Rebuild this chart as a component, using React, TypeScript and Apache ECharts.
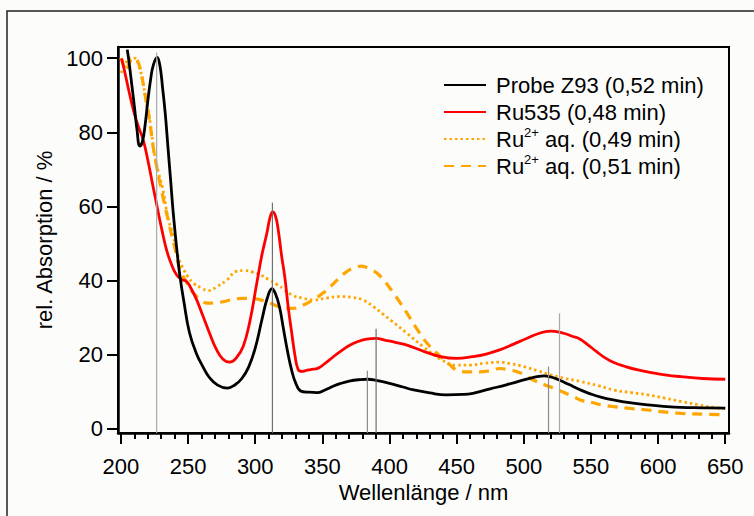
import React, { useEffect, useRef } from "react";
import * as echarts from "echarts";

const FONT = '"Liberation Sans", Arial, Helvetica, sans-serif';

const seriesNames = [
  "Probe Z93 (0,52 min)",
  "Ru535 (0,48 min)",
  "Ru2+ aq. (0,49 min)",
  "Ru2+ aq. (0,51 min)",
];

const probeZ93 = [
  [204.7, 102.3], [206, 99], [208, 93], [210, 87], [212, 80.5], [214, 76.3], [216, 77.5], [218, 82],
  [220, 88.5], [222, 94], [224, 98], [227, 100.2], [229, 98], [231, 92], [233, 85], [235, 76],
  [237, 67], [239, 58], [242, 47], [244, 41], [247, 34], [251, 26], [256, 20.5], [261, 16.8],
  [266, 13.8], [272, 11.8], [279, 11], [285, 11.9], [290, 13.6], [295, 16.6], [300, 21.8], [305, 29.5],
  [309, 35.3], [312.5, 37.8], [315, 36.5], [318, 33], [321, 27], [324, 21], [327, 16], [330, 12.5],
  [334, 10.2], [340, 9.9], [346, 9.8], [352, 10.5], [358, 11.5], [363, 12.2], [370, 12.9],
  [378, 13.3], [384, 13.4], [390, 13.1], [400, 12.3], [410, 11.3], [418, 10.5], [430, 9.7],
  [442, 9.2], [455, 9.3], [462, 9.6], [475, 10.8], [487, 11.9], [498, 13], [505, 13.7], [510, 14.1],
  [515, 14.3], [520, 14], [525, 13.4], [530, 12.6], [537, 11.4], [543, 10.4], [550, 9.4], [558, 8.5],
  [567, 7.8], [580, 7], [592, 6.5], [604, 6.1], [617, 5.8], [633, 5.7], [650, 5.6],
];

const ru535 = [
  [200.5, 99.9], [203, 96], [206, 91], [210, 85], [213, 81.5], [216.6, 77.9], [220, 72.5], [223, 67],
  [226.6, 60.5], [230, 54.5], [234, 48.2], [238, 44], [241.5, 41.5], [245, 40.3], [249, 39.7],
  [252, 38], [256.4, 34.8], [261, 30.5], [266, 25.8], [271, 21.5], [276, 18.8], [281, 18], [286, 19.2],
  [291, 22.2], [296, 29], [301, 39], [305, 47], [308.6, 52.7], [311, 57], [313, 58.5], [315, 57.5],
  [317, 54], [319.7, 46.5], [322, 41], [324.5, 33], [327.2, 25.8], [329.5, 20], [332, 16], [335, 15.5],
  [338, 15.8], [341, 16], [347, 16.4], [352, 17.7], [358, 19.4], [363, 20.8], [370, 22.5], [376, 23.5],
  [383, 24.2], [390, 24.4], [397, 23.9], [405, 23.3], [413, 22.6], [425, 21], [438, 19.5], [450, 19],
  [462, 19.5], [472, 20.2], [482, 21.3], [492, 22.8], [502, 24.4], [510, 25.6], [519.7, 26.4],
  [529.6, 25.8], [536, 25], [542, 24.2], [548, 22.6], [554, 20.9], [560, 19.3], [567, 17.9],
  [575, 16.9], [585, 15.9], [595, 15.2], [605, 14.6], [617, 14.1], [633, 13.6], [650, 13.4],
];

const ruAq049 = [
  [200, 96], [203, 98], [206, 100], [210, 100], [213, 98.5], [216, 94], [219, 88], [222, 82],
  [225, 74], [228, 69], [231, 65], [235, 57], [239, 52], [243, 46], [246, 43.5], [250, 41],
  [254, 39.3], [260, 38], [265, 37.3], [272, 38.5], [279, 40.2], [286, 42.5], [292, 42.7],
  [298, 42.3], [304, 41.5], [310, 40.3], [316, 39], [322, 37.5], [328, 36], [335, 35.3],
  [343, 34.8], [353, 35.3], [363, 35.7], [372, 35.5], [380, 34.8], [388, 33], [395, 31], [402, 29],
  [413, 25.8], [425, 22.2], [438, 18.8], [450, 17.2], [460, 17.2], [470, 17.7], [482, 18],
  [490, 17.6], [500, 16.8], [510, 15.7], [520, 14.6], [530, 13.7], [542, 12.8], [555, 11.7],
  [567, 10.5], [580, 9.8], [592, 9.2], [605, 8.3], [617, 7.4], [630, 6.5], [641, 5.8], [650, 5.5],
];

const ruAq051 = [
  [200, 100], [202, 98], [204, 96.5], [206, 98.5], [209, 100], [212, 99.5], [215, 96], [218, 90],
  [221, 84], [224, 76], [227, 70], [231, 63], [236, 55], [240, 49], [244, 43], [249, 39.5],
  [254, 36.6], [259, 35], [264, 33.9], [270, 34], [276, 34.3], [284, 35], [291, 35.2], [297, 35.2],
  [304, 34.8], [311, 34], [317, 33], [323, 32.6], [328, 32.5], [335, 33.3], [343, 34.8], [350, 36.5],
  [356, 38.4], [362, 40.5], [368, 42.4], [374, 43.5], [379, 43.9], [385, 43.2], [391, 41.9],
  [397, 39.5], [403, 36.6], [408, 34], [413, 31.2], [420, 27.2], [428, 23.1], [438, 19.5],
  [444, 17.6], [450, 15.9], [458, 15.4], [467, 15.4], [475, 15.7], [482, 16.3], [488, 16],
  [495, 15.4], [501, 14.5], [507, 13.2], [515, 12], [522, 11], [530, 9.8], [537, 8.7], [543, 7.7],
  [550, 7.2], [558, 6.5], [567, 6], [580, 5.5], [592, 5.1], [604, 4.6], [617, 4.2], [633, 4],
  [650, 3.8],
];

const stickNm = [226.6, 312.8, 383.5, 390, 518.4, 526.6];
const stickHeight = [101.5, 61, 15.7, 27, 16.8, 31.2];
const stickShade = ["#a8a8a8", "#6e6e6e", "#8a8a8a", "#6e6e6e", "#8a8a8a", "#a8a8a8"];

const xMajorTicks = [200, 250, 300, 350, 400, 450, 500, 550, 600, 650];
const xMinorTicks = [
  210, 220, 230, 240, 260, 270, 280, 290, 310, 320, 330, 340, 360, 370, 380, 390,
  410, 420, 430, 440, 460, 470, 480, 490, 510, 520, 530, 540, 560, 570, 580, 590,
  610, 620, 630, 640,
];
const yTicks = [0, 20, 40, 60, 80, 100];

const X_MIN = 197.8;
const X_MAX = 652.8;
const Y_MIN = -1.1;
const Y_MAX = 103;

export default function App() {
  const ref = useRef<HTMLDivElement>(null);

  useEffect(() => {
    if (!ref.current) return;
    const chart = echarts.init(ref.current, null, { renderer: "svg" });

    const lineBase = {
      type: "line" as const,
      showSymbol: false,
      symbol: "none",
      smooth: 0.45,
      xAxisIndex: 0,
      yAxisIndex: 0,
    };

    const option: any = {
      animation: false,
      backgroundColor: "transparent",
      textStyle: { fontFamily: FONT },
      graphic: [
        {
          type: "rect",
          silent: true,
          shape: { x: 7, y: 11, width: 800, height: 600 },
          style: { fill: "none", stroke: "#222", lineWidth: 1.5 },
          z: -1,
        },
      ],
      grid: {
        left: 118,
        right: 25,
        top: 47,
        bottom: 83,
        show: true,
        borderColor: "#000",
        borderWidth: 2,
        backgroundColor: "transparent",
      },
      legend: {
        orient: "vertical",
        left: 443,
        top: 72,
        padding: 0,
        itemWidth: 42,
        itemHeight: 14,
        itemGap: 1,
        data: seriesNames,
        itemStyle: { opacity: 0 },
        formatter: (name: string) => name.replace("Ru2+", "Ru{sup|2+}"),
        textStyle: {
          fontFamily: FONT,
          fontSize: 22,
          color: "#000",
          lineHeight: 26,
          padding: [0, 0, 0, 5],
          rich: {
            sup: {
              fontFamily: FONT,
              fontSize: 13,
              lineHeight: 18,
              verticalAlign: "top",
              color: "#000",
            },
          },
        },
      },
      xAxis: [
        {
          type: "value",
          min: X_MIN,
          max: X_MAX,
          position: "bottom",
          name: "Wellenlänge / nm",
          nameLocation: "middle",
          nameGap: 48,
          nameTextStyle: { fontFamily: FONT, fontSize: 22, color: "#000" },
          axisLine: { show: true, onZero: false, lineStyle: { color: "#000", width: 2.5 } },
          axisTick: {
            show: true,
            inside: false,
            length: 11,
            customValues: xMajorTicks,
            lineStyle: { color: "#000", width: 2 },
          },
          axisLabel: {
            show: true,
            customValues: xMajorTicks,
            margin: 22,
            fontFamily: FONT,
            fontSize: 22,
            color: "#000",
          },
          splitLine: { show: false },
        },
        {
          type: "value",
          min: X_MIN,
          max: X_MAX,
          position: "bottom",
          offset: 0,
          axisLine: { show: false, onZero: false },
          axisTick: {
            show: true,
            inside: false,
            length: 6,
            customValues: xMinorTicks,
            lineStyle: { color: "#000", width: 2 },
          },
          axisLabel: { show: false },
          splitLine: { show: false },
        },
      ],
      yAxis: [
        {
          type: "value",
          min: Y_MIN,
          max: Y_MAX,
          name: "rel. Absorption / %",
          nameLocation: "middle",
          nameGap: 57,
          nameRotate: 90,
          nameTextStyle: { fontFamily: FONT, fontSize: 22, color: "#000" },
          axisLine: { show: true, onZero: false, lineStyle: { color: "#000", width: 2.5 } },
          axisTick: {
            show: true,
            inside: false,
            length: 11,
            customValues: yTicks,
            lineStyle: { color: "#000", width: 2 },
          },
          axisLabel: {
            show: true,
            customValues: yTicks,
            margin: 15,
            fontFamily: FONT,
            fontSize: 22,
            color: "#000",
          },
          splitLine: { show: false },
        },
      ],
      series: [
        {
          ...lineBase,
          name: seriesNames[0],
          data: probeZ93,
          lineStyle: { color: "#000", width: 2.8 },
          itemStyle: { color: "#000" },
          z: 5,
        },
        {
          ...lineBase,
          name: seriesNames[1],
          data: ru535,
          lineStyle: { color: "#ff0000", width: 2.8 },
          itemStyle: { color: "#ff0000" },
          z: 4,
        },
        {
          ...lineBase,
          name: seriesNames[2],
          data: ruAq049,
          lineStyle: { color: "#ffa500", width: 2.8, type: [2.5, 3], cap: "butt" },
          itemStyle: { color: "#ffa500" },
          z: 3,
        },
        {
          ...lineBase,
          name: seriesNames[3],
          data: ruAq051,
          lineStyle: { color: "#ffa500", width: 3.2, type: [10, 7], cap: "butt" },
          itemStyle: { color: "#ffa500" },
          z: 3,
        },
        {
          type: "custom",
          name: "sticks",
          xAxisIndex: 0,
          yAxisIndex: 0,
          silent: true,
          z: 6,
          data: stickNm.map((x, i) => [x, stickHeight[i], i]),
          renderItem: (params: any, api: any) => {
            const x = api.value(0);
            const h = api.value(1);
            const idx = api.value(2);
            const p0 = api.coord([x, Y_MIN]);
            const p1 = api.coord([x, h]);
            return {
              type: "line",
              shape: { x1: p0[0], y1: p0[1], x2: p1[0], y2: p1[1] },
              style: { stroke: stickShade[idx], lineWidth: 1.2 },
            };
          },
        },
      ],
    };

    chart.setOption(option);
    return () => chart.dispose();
  }, []);

  return (
    <div
      style={{
        position: "fixed",
        left: 0,
        top: 0,
        width: 754,
        height: 516,
        background: "#fcfdfb",
        overflow: "hidden",
      }}
    >
      <div ref={ref} style={{ width: 754, height: 516 }} />
    </div>
  );
}
